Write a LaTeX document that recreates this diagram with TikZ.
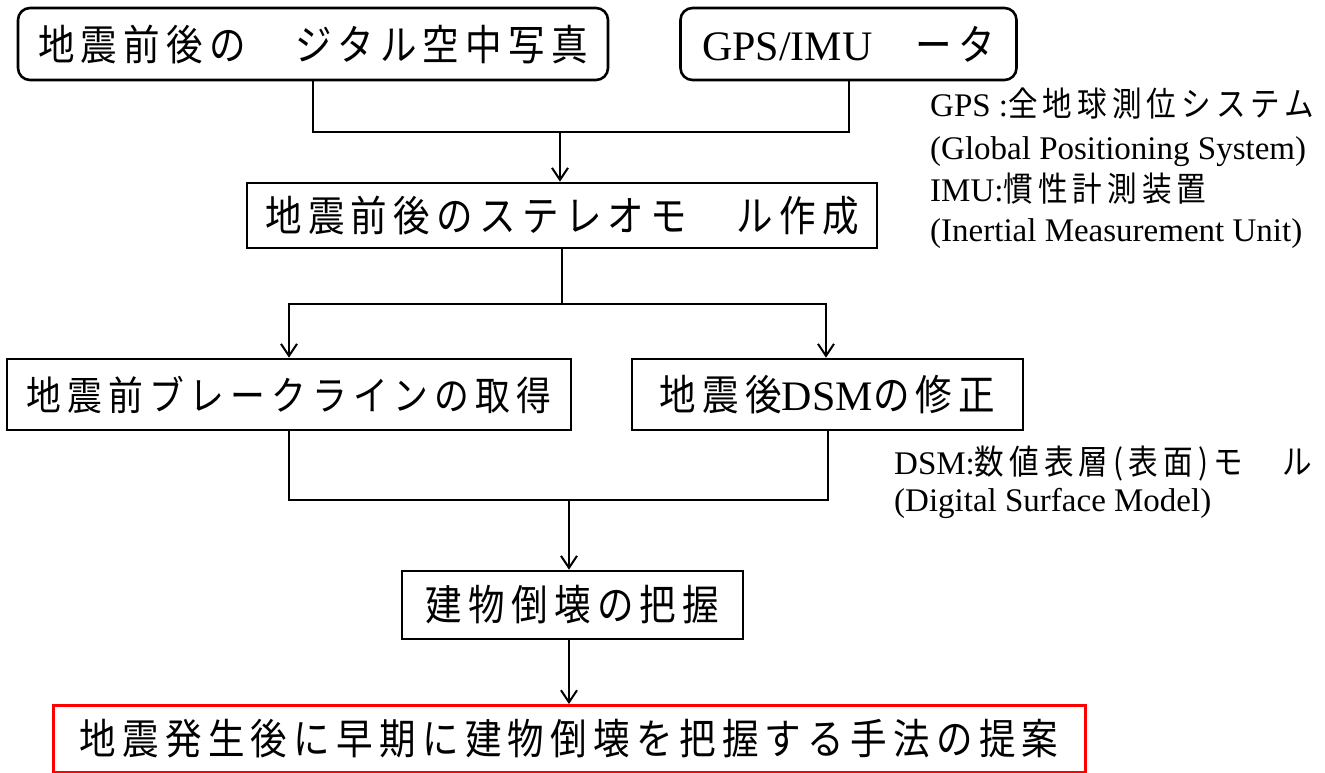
\documentclass[tikz,border=0pt]{standalone}
\usepackage{fontspec}
\setmainfont{Liberation Serif}
\newfontfamily\jp[FakeStretch=0.87, LetterSpace=15]{Noto Sans CJK JP}
\usetikzlibrary{arrows.meta}
\newcommand\latbig[1]{{\rmfamily\fontsize{42}{44}\selectfont #1}}
\newcommand\jsm[1]{{\jp\fontsize{34}{38}\selectfont #1}}
\begin{document}
\begin{tikzpicture}[x=1pt,y=-1pt,
  bx/.style={draw, line width=2.6pt, inner sep=0pt, align=center, font=\fontsize{42}{46}\selectfont\jp},
  rbx/.style={bx, rounded corners=12pt},
  ln/.style={line width=2pt},
  ar/.style={line width=2pt, -{Straight Barb[length=12pt,width=16pt,line width=2pt]}},
  note/.style={anchor=base west, inner sep=0pt, font=\fontsize{33}{38}\selectfont}
]
\useasboundingbox (0,0) rectangle (1325,772);
% boxes
\node[rbx, minimum width=590pt, minimum height=72pt] (b1) at (313,44) {地震前後の　ジタル空中写真};
\node[rbx, minimum width=336pt, minimum height=72pt] (b2) at (848.5,44) {\latbig{GPS/IMU}　ータ};
\node[bx, minimum width=630pt, minimum height=65pt] (b3) at (562,215.5) {地震前後のステレオモ　ル作成};
\node[bx, minimum width=564pt, minimum height=71pt, font=\fontsize{40}{46}\selectfont\jp] (b4) at (289,394.5) {地震前ブレークラインの取得};
\node[bx, minimum width=391pt, minimum height=71pt] (b5) at (827.5,394.5) {地震後\latbig{DSM}の修正};
\node[bx, minimum width=341pt, minimum height=68pt] (b6) at (572.5,605) {建物倒壊の把握};
\node[bx, draw=red, line width=3pt, minimum width=1032pt, minimum height=67pt] (b7) at (569,739) {地震発生後に早期に建物倒壊を把握する手法の提案};
% notes
\node[note] (n1) at (930,116) {GPS :\jsm{全地球測位システム}};
\node[note] (n2) at (930,159) {(Global Positioning System)};
\node[note] (n3) at (930,201) {IMU:\jsm{慣性計測装置}};
\node[note] (n4) at (930,241) {(Inertial Measurement Unit)};
\node[note] (n5) at (894,474) {DSM:\jsm{数値表層(表面)モ　ル}};
\node[note] (n6) at (894,511) {(Digital Surface Model)};
% connectors
\coordinate (j1) at (560,132);
\draw[ln] (b1.south) |- (j1) -| (b2.south);
\draw[ar] (j1) -- (j1 |- b3.north);
\coordinate (s0) at (562,304);
\coordinate (s1) at (289,304);
\coordinate (s2) at (826,304);
\draw[ln] (b3.south) -- (s0);
\draw[ar] (s0) -- (s1) -- (s1 |- b4.north);
\draw[ar] (s0) -- (s2) -- (s2 |- b5.north);
\coordinate (m) at (569,500);
\draw[ln] (b4.south) |- (m) -| (b5.south);
\draw[ar] (m) -- (m |- b6.north);
\draw[ar] (b6.south -| m) -- (m |- b7.north);
\end{tikzpicture}
\end{document}
